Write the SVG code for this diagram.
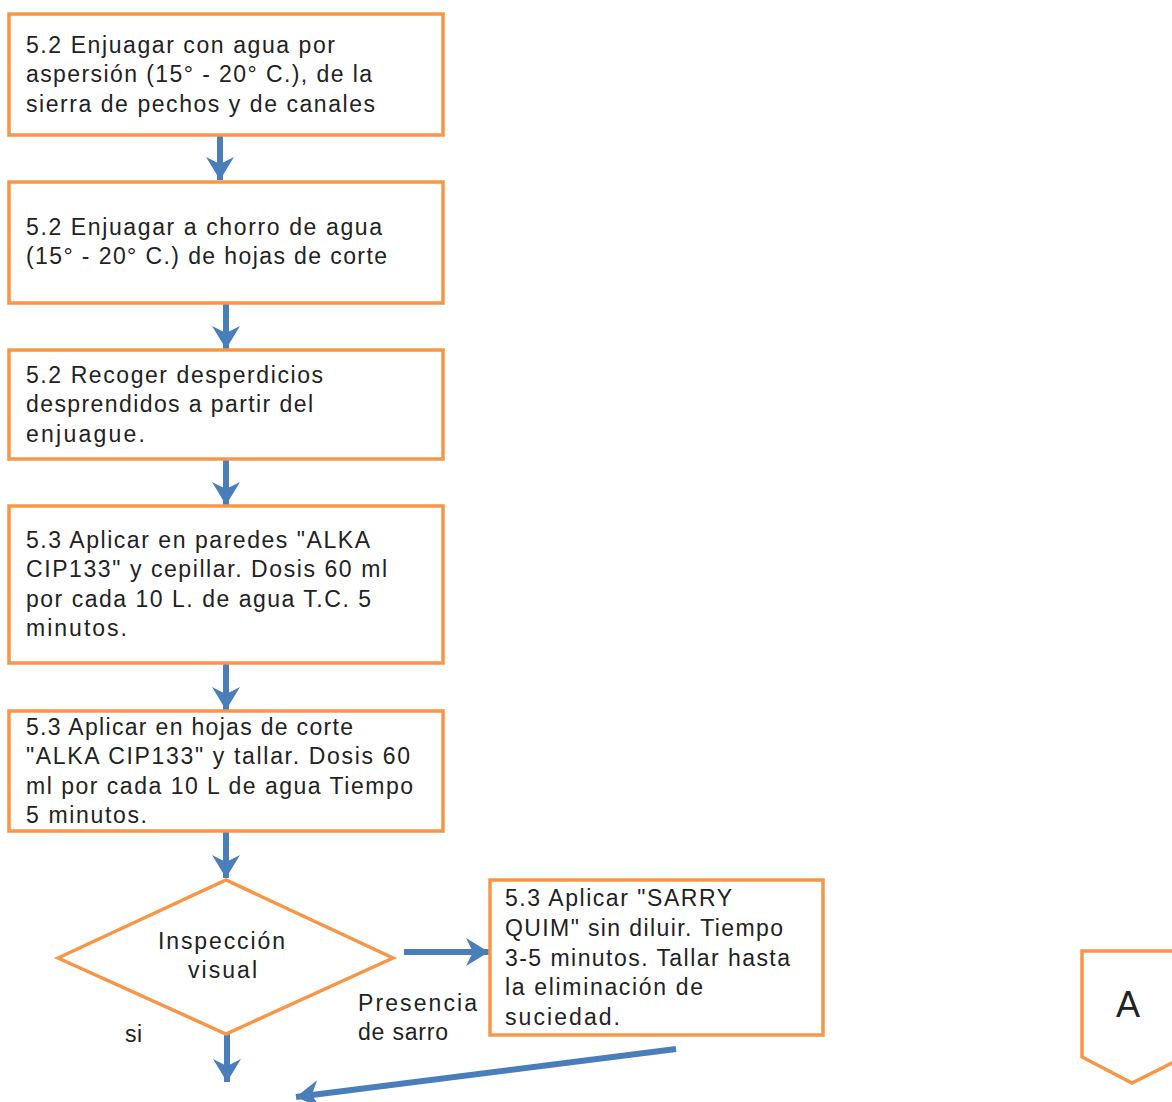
<svg xmlns="http://www.w3.org/2000/svg" width="1172" height="1102" viewBox="0 0 1172 1102">
<style>
.box{fill:#fff;stroke:#f79646;stroke-width:3.5}
.t{font-family:"Liberation Sans",Arial,sans-serif;font-size:23px;fill:#222}
.c{stroke:#4a7ebb;stroke-width:6;fill:none}
</style>
<defs>
<marker id="ah" markerUnits="userSpaceOnUse" markerWidth="32" markerHeight="32" viewBox="0 0 32 32" refX="26" refY="16" orient="auto">
<path d="M3,2 L26,16 L3,30 L10,16 Z" fill="#4a7ebb"/>
</marker>
</defs>
<rect width="1172" height="1102" fill="#fff"/>
<g id="connectors">
<line class="c" x1="220" y1="135" x2="220" y2="180" marker-end="url(#ah)"/>
<line class="c" x1="226" y1="303" x2="226" y2="349" marker-end="url(#ah)"/>
<line class="c" x1="226" y1="459" x2="226" y2="505" marker-end="url(#ah)"/>
<line class="c" x1="226" y1="663" x2="226" y2="710" marker-end="url(#ah)"/>
<line class="c" x1="226" y1="831" x2="226" y2="878" marker-end="url(#ah)"/>
<line class="c" x1="227" y1="1034" x2="227" y2="1082" marker-end="url(#ah)"/>
<line class="c" x1="404" y1="952" x2="489" y2="952" marker-end="url(#ah)"/>
<line class="c" x1="676" y1="1049" x2="296" y2="1097" marker-end="url(#ah)"/>
</g>
<g id="n1">
<rect class="box" x="9" y="14" width="434" height="121"/>
<text class="t" x="26" y="53" textLength="309" lengthAdjust="spacing">5.2 Enjuagar con agua por</text>
<text class="t" x="26" y="82" textLength="346" lengthAdjust="spacing">aspersión (15° - 20° C.), de la</text>
<text class="t" x="26" y="112" textLength="349" lengthAdjust="spacing">sierra de pechos y de canales</text>
</g>
<g id="n2">
<rect class="box" x="9" y="182" width="434" height="121"/>
<text class="t" x="26" y="235" textLength="356" lengthAdjust="spacing">5.2 Enjuagar a chorro de agua</text>
<text class="t" x="26" y="264" textLength="361" lengthAdjust="spacing">(15° - 20° C.) de hojas de corte</text>
</g>
<g id="n3">
<rect class="box" x="9" y="350" width="434" height="109"/>
<text class="t" x="26" y="383" textLength="297" lengthAdjust="spacing">5.2 Recoger desperdicios</text>
<text class="t" x="26" y="412" textLength="287" lengthAdjust="spacing">desprendidos a partir del</text>
<text class="t" x="26" y="442" textLength="119" lengthAdjust="spacing">enjuague.</text>
</g>
<g id="n4">
<rect class="box" x="9" y="506" width="434" height="157"/>
<text class="t" x="26" y="548" textLength="344" lengthAdjust="spacing">5.3 Aplicar en paredes "ALKA</text>
<text class="t" x="26" y="577" textLength="361" lengthAdjust="spacing">CIP133" y cepillar.  Dosis 60 ml</text>
<text class="t" x="26" y="607" textLength="345" lengthAdjust="spacing">por cada 10 L. de agua T.C. 5</text>
<text class="t" x="26" y="636" textLength="101" lengthAdjust="spacing">minutos.</text>
</g>
<g id="n5">
<rect class="box" x="9" y="711" width="434" height="120"/>
<text class="t" x="26" y="735" textLength="327" lengthAdjust="spacing">5.3 Aplicar en hojas de corte</text>
<text class="t" x="26" y="764" textLength="384" lengthAdjust="spacing">"ALKA CIP133" y tallar.  Dosis 60</text>
<text class="t" x="26" y="794" textLength="387" lengthAdjust="spacing">ml por cada 10 L de agua Tiempo</text>
<text class="t" x="26" y="823" textLength="121" lengthAdjust="spacing">5 minutos.</text>
</g>
<g id="n6">
<polygon class="box" points="58,958 226,880 393,958 226,1034"/>
<text class="t" x="158" y="949" textLength="127" lengthAdjust="spacing">Inspección</text>
<text class="t" x="188" y="978" textLength="69" lengthAdjust="spacing">visual</text>
</g>
<g id="n7">
<rect class="box" x="490" y="880" width="333" height="155"/>
<text class="t" x="505" y="906" textLength="227" lengthAdjust="spacing">5.3 Aplicar "SARRY</text>
<text class="t" x="505" y="936" textLength="278" lengthAdjust="spacing">QUIM" sin diluir. Tiempo</text>
<text class="t" x="505" y="966" textLength="285" lengthAdjust="spacing">3-5 minutos. Tallar hasta</text>
<text class="t" x="505" y="995" textLength="198" lengthAdjust="spacing">la eliminación de</text>
<text class="t" x="505" y="1025" textLength="115" lengthAdjust="spacing">suciedad.</text>
</g>
<g id="labels">
<text class="t" x="358" y="1011" textLength="119" lengthAdjust="spacing">Presencia</text>
<text class="t" x="358" y="1040" textLength="90" lengthAdjust="spacing">de sarro</text>
<text class="t" x="125" y="1042" textLength="17" lengthAdjust="spacing">si</text>
</g>
<g id="n8">
<polygon class="box" points="1082,951 1184,951 1184,1057 1132,1083 1082,1057"/>
<text class="t" x="1128" y="1017" text-anchor="middle" style="font-size:36px">A</text>
</g>
</svg>
